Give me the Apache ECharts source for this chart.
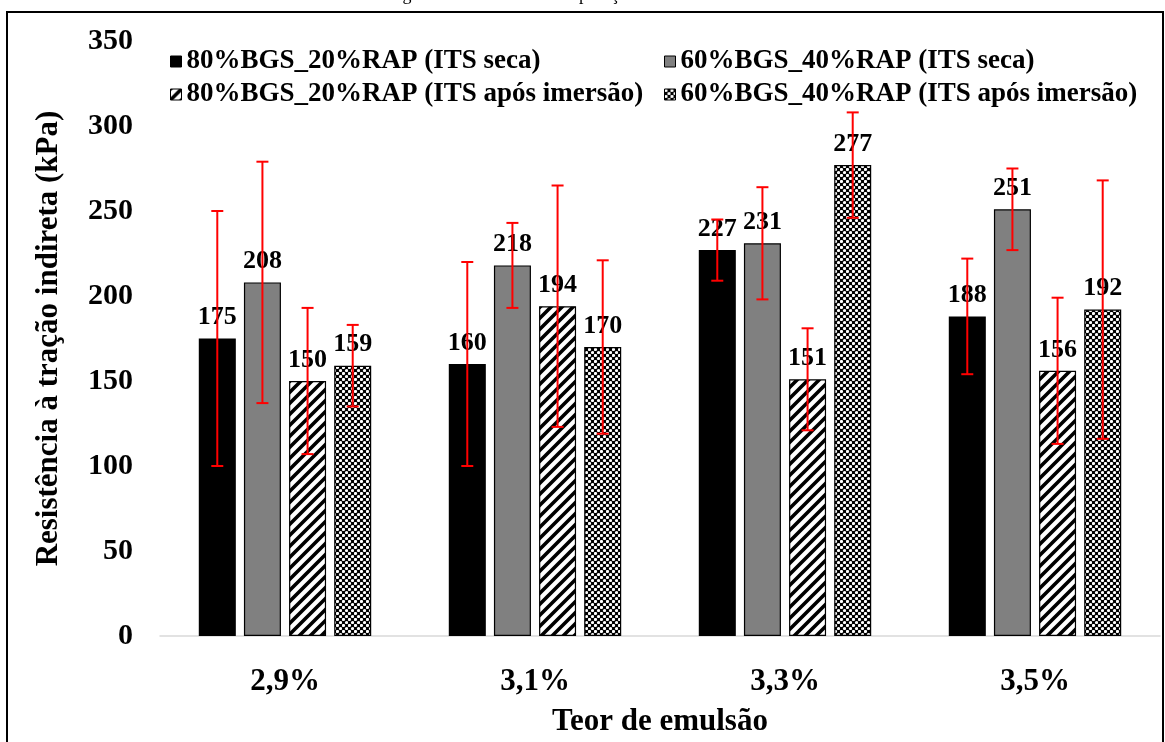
<!DOCTYPE html>
<html>
<head>
<meta charset="utf-8">
<script src="https://cdn.jsdelivr.net/npm/echarts@6/dist/echarts.min.js"></script>
<style>
html,body{margin:0;padding:0;background:#fff;}
#chart{width:1165px;height:742px;}
</style>
</head>
<body>
<div id="chart"></div>
<script>
// ---- data ----
const categories = ['2,9%', '3,1%', '3,3%', '3,5%'];
const seriesNames = [
  '80%BGS_20%RAP (ITS seca)',
  '60%BGS_40%RAP (ITS seca)',
  '80%BGS_20%RAP (ITS após imersão)',
  '60%BGS_40%RAP (ITS após imersão)'
];
const dry80 = [175, 160, 227, 188];
const dry60 = [208, 218, 231, 251];
const wet80 = [150, 194, 151, 156];
const wet60 = [159, 170, 277, 192];
const errDry80 = [75, 60, 18, 34];
const errDry60 = [71, 25, 33, 24];
const errWet80 = [43, 71, 30, 43];
const errWet60 = [24, 51, 31, 76];
const yTicks = [0, 50, 100, 150, 200, 250, 300, 350];

// ---- patterns ----
function stripePattern() {
  const s = 11;
  const c = document.createElement('canvas');
  c.width = s; c.height = s;
  const g = c.getContext('2d');
  g.fillStyle = '#fff'; g.fillRect(0, 0, s, s);
  g.strokeStyle = '#000'; g.lineWidth = 3.6;
  g.beginPath();
  for (let k = -1; k <= 1; k++) {
    g.moveTo(k * s - 2, s + 2); g.lineTo(k * s + s + 2, -2);
  }
  g.stroke();
  return { image: c, repeat: 'repeat' };
}
function checkPattern() {
  const s = 6;
  const c = document.createElement('canvas');
  c.width = s; c.height = s;
  const g = c.getContext('2d');
  g.fillStyle = '#000'; g.fillRect(0, 0, s, s);
  g.fillStyle = '#fff';
  g.beginPath(); g.arc(1.5, 1.5, 1.6, 0, Math.PI * 2); g.fill();
  g.beginPath(); g.arc(4.5, 4.5, 1.6, 0, Math.PI * 2); g.fill();
  return { image: c, repeat: 'repeat' };
}

const FONT = 'Liberation Serif';
const BAR_W = 37;
const BAR_GAP = 0.22;
const STEP = BAR_W * (1 + BAR_GAP);
const values = [dry80, dry60, wet80, wet60];
const errors = [errDry80, errDry60, errWet80, errWet60];
const fills = ['#000000', '#808080', stripePattern(), checkPattern()];

const barSeries = values.map((vals, i) => ({
  name: seriesNames[i],
  type: 'bar',
  data: vals,
  barWidth: BAR_W,
  barGap: (BAR_GAP * 100) + '%',
  itemStyle: { color: fills[i], borderColor: '#000', borderWidth: 1.2 },
  label: {
    show: true, position: 'top', distance: 8,
    fontFamily: FONT, fontWeight: 'bold', fontSize: 26, color: '#000'
  },
  z: 2
}));

function errRender(idx) {
  return function (params, api) {
    const c = api.value(0), v = api.value(1), e = api.value(2);
    const base = api.coord([c, v]);
    const x = base[0] + (idx - 1.5) * STEP;
    const hi = api.coord([c, v + e])[1];
    const lo = api.coord([c, v - e])[1];
    const cap = 6;
    const st = { stroke: '#ff0000', lineWidth: 2 };
    return {
      type: 'group', children: [
        { type: 'line', shape: { x1: x, y1: hi, x2: x, y2: lo }, style: st },
        { type: 'line', shape: { x1: x - cap, y1: hi, x2: x + cap, y2: hi }, style: st },
        { type: 'line', shape: { x1: x - cap, y1: lo, x2: x + cap, y2: lo }, style: st }
      ]
    };
  };
}
const errSeries = values.map((vals, i) => ({
  name: 'err' + i,
  type: 'custom',
  renderItem: errRender(i),
  data: vals.map((v, j) => [j, v, errors[i][j]]),
  encode: { x: 0, y: 1 },
  z: 5,
  silent: true
}));

const legendText = { fontFamily: FONT, fontWeight: 'bold', fontSize: 27, color: '#000' };

const chart = echarts.init(document.getElementById('chart'), null, { renderer: 'canvas' });
chart.setOption({
  animation: false,
  backgroundColor: '#fff',
  grid: { left: 160, right: 5, top: 41, bottom: 104 },
  legend: [
    { data: [seriesNames[0], seriesNames[2]], orient: 'vertical', left: 170, top: 48,
      itemWidth: 11, itemHeight: 11, itemGap: 6, icon: 'rect', textStyle: legendText, padding: 0,
      itemStyle: { borderColor: '#000', borderWidth: 1 } },
    { data: [seriesNames[1], seriesNames[3]], orient: 'vertical', left: 664, top: 48,
      itemWidth: 11, itemHeight: 11, itemGap: 6, icon: 'rect', textStyle: legendText, padding: 0,
      itemStyle: { borderColor: '#000', borderWidth: 1 } }
  ],
  xAxis: {
    type: 'category', data: categories,
    axisLine: { show: true, lineStyle: { color: '#d9d9d9', width: 1.5 } },
    axisTick: { show: false },
    axisLabel: { fontFamily: FONT, fontWeight: 'bold', fontSize: 31, color: '#000', margin: 30 },
    name: 'Teor de emulsão', nameLocation: 'middle', nameGap: 70,
    nameTextStyle: { fontFamily: FONT, fontWeight: 'bold', fontSize: 31, color: '#000' }
  },
  yAxis: {
    type: 'value', min: yTicks[0], max: yTicks[yTicks.length - 1], interval: 50,
    axisLine: { show: false }, axisTick: { show: false }, splitLine: { show: false },
    axisLabel: { fontFamily: FONT, fontWeight: 'bold', fontSize: 30, color: '#000', margin: 27 },
    name: 'Resistência à tração indireta (kPa)', nameLocation: 'middle', nameGap: 96,
    nameTextStyle: { fontFamily: FONT, fontWeight: 'bold', fontSize: 31, color: '#000' }
  },
  graphic: [
    { type: 'rect', shape: { x: 7, y: 12, width: 1156, height: 780 },
      style: { fill: 'none', stroke: '#000', lineWidth: 2 }, z: 10, silent: true },
    { type: 'text', x: 618, y: 4,
      style: { text: 'Figura 40 - Efeito da incorporação de RAP na ITS das misturas.', fontFamily: FONT,
        fontSize: 18, fill: '#000', textAlign: 'center', textVerticalAlign: 'bottom' }, z: 10 }
  ],
  series: barSeries.concat(errSeries)
});
</script>
</body>
</html>
